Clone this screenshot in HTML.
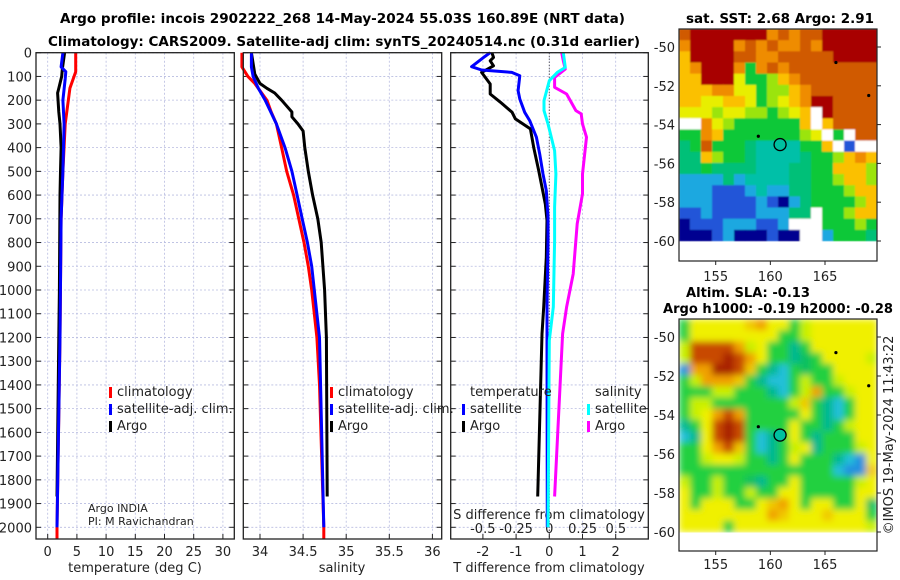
<!DOCTYPE html>
<html><head><meta charset="utf-8"><style>
html,body{margin:0;padding:0;background:#fff;width:900px;height:580px;overflow:hidden}
svg{display:block;font-family:"DejaVu Sans","Liberation Sans",sans-serif}
</style></head><body>
<svg id="fig" width="900" height="580" viewBox="0 0 900 580" xmlns="http://www.w3.org/2000/svg">
<defs>
<filter id="blurSLA" x="0" y="0" width="1" height="1" filterUnits="objectBoundingBox"><feGaussianBlur stdDeviation="3.5" edgeMode="duplicate"/></filter>
<filter id="blurSST" x="0" y="0" width="1" height="1" filterUnits="objectBoundingBox"><feGaussianBlur stdDeviation="0.8" edgeMode="duplicate"/></filter>
</defs>
</svg>
<script>
// ---------- data ----------
const depthTicks = [0,100,200,300,400,500,600,700,800,900,1000,1100,1200,1300,1400,1500,1600,1700,1800,1900,2000];
const tempTicks = [0,5,10,15,20,25,30];
const salTicks = [34,34.5,35,35.5,36];
const tdiffTicks = [-2,-1,0,1,2];
const sdiffTicks = [-0.5,-0.25,0,0.25,0.5];
const sdiffLabels = ["-0.5","-0.25","0","0.25","0.5"];

const climTDepth = [0,80,150,300,500,700,1200,2000,2050];
const climT = [4.8,4.8,3.8,3.0,2.6,2.3,2.1,1.6,1.6];
const satTDepth = [0,60,80,110,200,300,500,700,1200,2000];
const satT = [2.6,2.3,3.1,3.0,2.6,2.8,2.6,2.3,2.1,1.6];
const argoTDepth = [0,70,100,150,170,250,300,400,500,600,1000,1200,1870];
const argoT = [2.9,2.5,2.4,1.9,1.7,1.9,2.1,2.3,2.2,2.1,2.0,1.9,1.6];

const climSDepth = [0,60,100,130,200,250,300,400,500,600,700,800,900,1000,1200,1400,2000,2050];
const climS = [33.79,33.79,33.86,33.94,34.08,34.13,34.19,34.25,34.31,34.39,34.45,34.51,34.56,34.6,34.66,34.69,34.74,34.74];
const satSDepth = [0,60,100,150,200,300,400,500,600,700,800,900,1000,1200,2000];
const satS = [33.9,33.9,33.92,33.98,34.06,34.19,34.29,34.37,34.43,34.49,34.55,34.6,34.63,34.69,34.74];
const argoSDepth = [0,90,130,150,170,200,250,270,300,330,400,500,600,700,800,900,1000,1200,1870];
const argoS = [33.9,33.94,34.0,34.08,34.17,34.25,34.37,34.37,34.44,34.5,34.52,34.56,34.61,34.67,34.71,34.73,34.75,34.77,34.78];

const satTdDepth = [0,20,59,73,83,97,160,195,251,286,356,427,511,581,693,792,1072,1213,2000];
const satTd = [-1.78,-1.98,-2.34,-2.04,-1.13,-0.89,-0.94,-0.89,-0.74,-0.59,-0.39,-0.29,-0.19,-0.09,-0.04,-0.04,-0.07,-0.07,-0.06];
const argoTdDepth = [0,20,34,55,83,132,174,209,251,279,321,399,497,567,637,707,862,1072,1185,1870];
const argoTd = [-1.73,-1.68,-1.78,-1.68,-2.04,-1.78,-1.78,-1.47,-1.12,-1.02,-0.57,-0.47,-0.32,-0.22,-0.12,-0.07,-0.09,-0.17,-0.22,-0.35];
const satSdDepth = [0,62,83,118,202,244,300,413,511,651,792,1072,1213,2000];
const satSd = [0.105,0.12,0.06,0.0,-0.04,-0.04,-0.01,0.04,0.05,0.04,0.04,0.03,0.0,-0.01];
const argoSdDepth = [0,34,69,104,146,174,244,258,300,356,511,595,721,932,1072,1185,1870];
const argoSd = [0.093,0.105,0.12,0.04,0.04,0.13,0.2,0.24,0.25,0.28,0.25,0.25,0.21,0.18,0.13,0.1,0.04];

const mapLatTicks = [-50,-52,-54,-56,-58,-60];
const mapLonTicks = [155,160,165];
const argoLon = 160.89, argoLat = -55.03;

const sstGrid = [
"ORRRRRRRoOoOORRRRR",
"oRRRRoOoOooOoRRRRR",
"YRRRROOooOOOOORRRR",
"YoRRRoGoOoOOOOOOOO",
"YYRRRyGGlYoOOOOOOO",
"YYYooyyGllYoOOOOOO",
"YYyyYYyGlyYoRROOOO",
"yyylyyllGlyYWROOOO",
"WWoylGGGGGGYWYOOOO",
"GGoYGGGGGGGlyWGWOO",
"gGOGGGgccccGGYWBWW",
"ggYlGGgccccgGGlYoY",
"ggGggggcccggGGYYYl",
"bbbbgbccccggGGlYYl",
"bbbBBBbcbbggGGGlYY",
"bbbBBBBbBNbgGGGGlY",
"BBbBBBBbbbggWGGlYY",
"NBBBbbbBBbWWWGGGlG",
"NNNBbNNNBNNWWbGGGg"];
const slaGrid = [
"GYYYYYoOYYGyYYYYYY",
"GYYYYYYYYGGyYYYYYY",
"yRRRROyYGGcGYYYYYY",
"yRRRDROYGGcgGYYYYy",
"BOODDRoGcbGgGGYYYY",
"GyOOOoGcbbGyGGyYYY",
"GGGyyGGGcbGyOGGyYY",
"GyyGGGGGGGyoGcbGYY",
"GyYOROGGGGGYGcbGYY",
"cGYRDRGGGGYGGcGyYY",
"bcYRDRGbcGYGcGGGYY",
"GGYORoGbcGyYcGGGyY",
"GGyYYyGGcGYGGGcbBY",
"GGGGGGGGGGGGGGbBBo",
"yGGyGGgcGGYGGGGGyY",
"YGGyGGyGGYYGGGGGYY",
"YGYYYGGYoOYGYYGGYg",
"YYYYYYYYOoYYYoYYYG",
"YYYYGYYYYYYYYYYYYy"];

// ---------- helpers ----------
const NS="http://www.w3.org/2000/svg";
const svg=document.getElementById('fig');
function mk(tag,attrs,parent){const e=document.createElementNS(NS,tag);for(const k in attrs)e.setAttribute(k,attrs[k]);(parent||svg).appendChild(e);return e;}
function txt(s,x,y,opt,parent){const e=mk('text',Object.assign({x:x,y:y,'font-size':13,fill:'#222'},opt||{}),parent);e.textContent=s;return e;}

const TOP=52.7, BOT=539, DSC=(527.3-52.7)/2000;
const yD=d=>TOP+d*DSC;
const xT=t=>47.7+t*5.84;
const xS=s=>260+(s-34)*86.2;
const xTd=t=>549.3+t*33.2;
const xSd=s=>549.3+s*133;

// titles
let t;
t=txt("Argo profile: incois 2902222_268 14-May-2024 55.03S 160.89E (NRT data)",60,23,{'font-weight':'bold',fill:'#000',textLength:565,lengthAdjust:'spacingAndGlyphs'});


t=txt("Climatology: CARS2009. Satellite-adj clim: synTS_20240514.nc (0.31d earlier)",48,46,{'font-weight':'bold',fill:'#000',textLength:592,lengthAdjust:'spacingAndGlyphs'});



function panel(name,x0,x1){
  const g=mk('g',{});
  
  
  depthTicks.forEach(d=>{
    const l=mk('line',{x1:x0,x2:x1,y1:yD(d),y2:yD(d),stroke:'#b8bce0','stroke-dasharray':'2,2','stroke-width':0.8},g);
    
    
    const tk=mk('line',{x1:x0,x2:x0+5,y1:yD(d),y2:yD(d),stroke:'#222'},g);
    
    
    const tk2=mk('line',{x1:x1-5,x2:x1,y1:yD(d),y2:yD(d),stroke:'#222'},g);
    
    
  });
  return g;
}
function vgrid(g,xs){xs.forEach(x=>{
  const l=mk('line',{x1:x,x2:x,y1:TOP,y2:BOT,stroke:'#b8bce0','stroke-dasharray':'2,2','stroke-width':0.8},g);
  
  
  const tk=mk('line',{x1:x,x2:x,y1:BOT-5,y2:BOT,stroke:'#222'},g);
  
  
});}
function frame(g,x0,x1){const r=mk('rect',{x:x0,y:TOP,width:x1-x0,height:BOT-TOP,fill:'none',stroke:'#222','stroke-width':1.3},g);
  
  }
function line(g,depths,vals,fx,color,name,w){
  const pts=depths.map((d,i)=>fx(vals[i]).toFixed(1)+','+yD(d).toFixed(1)).join(' ');
  const p=mk('polyline',{points:pts,fill:'none',stroke:color,'stroke-width':w||3,'stroke-linejoin':'round'},g);
  
  
}
function legend(g,x,y,color,label,name){
  const m=mk('rect',{x:x,y:y-9,width:3,height:11,fill:color},g);
  
  
  const tt=txt(label,x+8,y,{},g);
  
  
}

// panel 1 temperature
let g1=panel('temperature-panel',36,234.3);
vgrid(g1,tempTicks.map(xT));
depthTicks.forEach(d=>{const l=txt(String(d),32,yD(d)+5,{'text-anchor':'end'},g1);
  
  });
tempTicks.forEach(v=>{const l=txt(String(v),xT(v),556,{'text-anchor':'middle'},g1);
  
  });
t=txt("temperature (deg C)",135,572,{'text-anchor':'middle'},g1);


line(g1,climTDepth,climT,xT,'#ff0000','climatology-temperature-line');
line(g1,argoTDepth,argoT,xT,'#000000','argo-temperature-line');
line(g1,satTDepth,satT,xT,'#0000ff','satellite-temperature-line');
legend(g1,109,396,'#ff0000','climatology','legend-climatology');
legend(g1,109,413,'#0000ff','satellite-adj. clim.','legend-satellite-adj');
legend(g1,109,430,'#000000','Argo','legend-argo');
t=txt("Argo INDIA",88,512,{'font-size':11},g1);


t=txt("PI: M Ravichandran",88,525,{'font-size':11},g1);


frame(g1,36,234.3);

// panel 2 salinity
let g2=panel('salinity-panel',243.3,441.7);
vgrid(g2,salTicks.map(xS));
salTicks.forEach(v=>{const l=txt(String(v),xS(v),556,{'text-anchor':'middle'},g2);
  
  });
t=txt("salinity",342,572,{'text-anchor':'middle'},g2);


line(g2,climSDepth,climS,xS,'#ff0000','climatology-salinity-line');
line(g2,argoSDepth,argoS,xS,'#000000','argo-salinity-line');
line(g2,satSDepth,satS,xS,'#0000ff','satellite-salinity-line');
legend(g2,330,396,'#ff0000','climatology','legend-climatology-s');
legend(g2,330,413,'#0000ff','satellite-adj. clim.','legend-satellite-adj-s');
legend(g2,330,430,'#000000','Argo','legend-argo-s');
frame(g2,243.3,441.7);

// panel 3 differences
let g3=panel('difference-panel',450.7,648.3);
vgrid(g3,tdiffTicks.map(xTd));
t=mk('line',{x1:xTd(0),x2:xTd(0),y1:TOP,y2:BOT,stroke:'#333','stroke-dasharray':'1,2'},g3);


tdiffTicks.forEach(v=>{const l=txt(String(v),xTd(v),556,{'text-anchor':'middle'},g3);
  
  });
sdiffTicks.forEach((v,i)=>{const l=txt(sdiffLabels[i],xSd(v),533,{'text-anchor':'middle'},g3);
  
  });
t=txt("S difference from climatology",549,519,{'text-anchor':'middle'},g3);


t=txt("T difference from climatology",549,572,{'text-anchor':'middle'},g3);


line(g3,argoTdDepth,argoTd,xTd,'#000000','argo-t-diff-line');
line(g3,satTdDepth,satTd,xTd,'#0000ff','satellite-t-diff-line');
line(g3,argoSdDepth,argoSd,xSd,'#ff00ff','argo-s-diff-line');
line(g3,satSdDepth,satSd,xSd,'#00ffff','satellite-s-diff-line');
t=txt("temperature",470,396,{},g3);


t=txt("salinity",595,396,{},g3);


legend(g3,462,413,'#0000ff','satellite','legend-t-satellite');
legend(g3,462,430,'#000000','Argo','legend-t-argo');
legend(g3,587,413,'#00ffff','satellite','legend-s-satellite');
legend(g3,587,430,'#ff00ff','Argo','legend-s-argo');
frame(g3,450.7,648.3);

// ---------- maps ----------
const COL={R:'#a80000',O:'#d05a00',o:'#ef8c00',Y:'#fbc000',y:'#e8ee00',l:'#9be410',G:'#10c838',g:'#00c078',c:'#00c0a8',b:'#1ea8e0',B:'#2055d8',N:'#000090',W:'#ffffff'};
const COL2={R:'#c84a00',D:'#a82000',O:'#f0a000',o:'#f0c800',Y:'#f0f000',y:'#c8f000',G:'#20d040',g:'#10c060',c:'#00b890',b:'#20c0d8',B:'#2090e0'};
function drawMap(name,grid,pal,x0,x1,yTop,yDataBot,yBoxBot,lat50,latScale,lonY,filt){
  const g=mk('g',{});
  
  
  const cells=mk('g',{filter:'url(#'+filt+')'},g);
  
  
  const cw=(x1-x0)/grid[0].length, ch=(yDataBot-yTop)/grid.length;
  grid.forEach((row,r)=>{[...row].forEach((c,k)=>{
    const cell=mk('rect',{x:(x0+k*cw).toFixed(2),y:(yTop+r*ch).toFixed(2),width:(cw+0.4).toFixed(2),height:(ch+0.4).toFixed(2),fill:pal[c]},cells);
    
    
  });});
  const lonX=l=>715.7+(l-155)*10.93;
  const latY=l=>lat50+(-50-l)*latScale;
  mapLatTicks.forEach(l=>{
    const lb=txt(String(l),675,latY(l)+5,{'text-anchor':'end'},g);
    
    
    const tk=mk('line',{x1:x1,x2:x1+4,y1:latY(l),y2:latY(l),stroke:'#222'},g);
    
    
  });
  mapLonTicks.forEach(l=>{
    const lb=txt(String(l),lonX(l),lonY,{'text-anchor':'middle'},g);
    
    
    const tk=mk('line',{x1:lonX(l),x2:lonX(l),y1:yBoxBot,y2:yBoxBot+4,stroke:'#222'},g);
    
    
  });
  const fr=mk('rect',{x:x0,y:yTop,width:x1-x0,height:yBoxBot-yTop,fill:'none',stroke:'#222','stroke-width':1.2},g);
  
  
  const circ=mk('circle',{cx:lonX(argoLon),cy:latY(argoLat),r:6,fill:'#00c0a0',stroke:'#000','stroke-width':1.3},g);
  
  
  [[166,-50.8],[169,-52.5],[158.9,-54.6]].forEach(p=>{
    const f=mk('circle',{cx:lonX(p[0]),cy:latY(p[1]),r:1.6,fill:'#000'},g);
    
    
  });
  return g;
}
drawMap('sst-map',sstGrid,COL,679,877,29,241,261,47,19.4,281,'blurSST');
drawMap('sla-map',slaGrid,COL2,679,877,319,532,551,337,19.5,569,'blurSLA');
t=txt("sat. SST: 2.68 Argo: 2.91",686,23,{'font-weight':'bold',fill:'#000',textLength:188,lengthAdjust:'spacingAndGlyphs'});


t=txt("Altim. SLA: -0.13",686,297,{'font-weight':'bold',fill:'#000',textLength:124,lengthAdjust:'spacingAndGlyphs'});


t=txt("Argo h1000: -0.19 h2000: -0.28",663,313,{'font-weight':'bold',fill:'#000',textLength:230,lengthAdjust:'spacingAndGlyphs'});


t=txt("©IMOS 19-May-2024 11:43:22",0,0,{'text-anchor':'middle',transform:'translate(893,435) rotate(-90)'});


</script>
</body></html>
